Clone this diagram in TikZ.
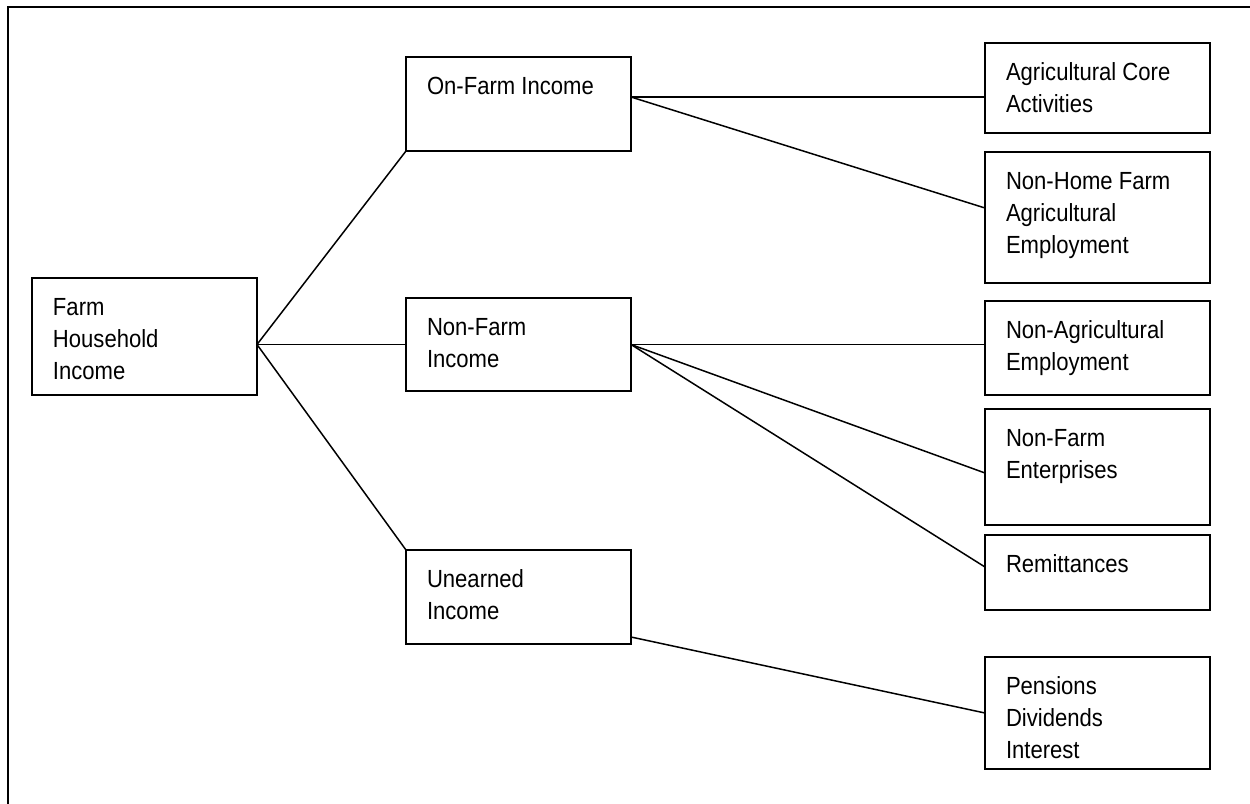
\documentclass[tikz,border=0pt]{standalone}
\usepackage{fontspec}
\setmainfont{Liberation Sans}[FakeStretch=0.89]
\usetikzlibrary{calc}
\tikzset{
 incbox/.style={draw, line width=1pt, anchor=north west, inner xsep=10.5pt, inner ysep=0pt, outer sep=0pt, font=\fontsize{12.4}{16}\selectfont},
 link/.style={line width=0.75pt},
 frame/.style={line width=1pt}
}
\newcommand{\incbox}[5]{% ime, x, y (zgoraj levo), visina, besedilo
 \node[incbox] (#1) at (#2,#3) {\parbox[c][#4][t]{91.5pt}{\raggedright\rule{0pt}{18.5pt}#5}};
}
\begin{document}
\begin{tikzpicture}[x=0.5pt,y=-0.5pt]
			\useasboundingbox (0,0) rectangle (1250,804);
			\draw [frame](1250,7)--(8,7)--(8,804);

			\incbox{fhi}{32}{278}{58.5pt}{Farm\\Household\\Income}
			\incbox{onf}{406}{57}{47pt}{On-Farm Income}
			\incbox{nonf}{406}{298}{46.5pt}{Non-Farm\\Income}
			\incbox{unearned}{406}{550}{47pt}{Unearned\\Income}

			\incbox{agcore}{985}{43}{45pt}{Agricultural Core\\Activities}
			\incbox{nonhome}{985}{152}{65.5pt}{Non-Home Farm\\Agricultural\\Employment}
			\incbox{nonag}{985}{301}{47pt}{Non-Agricultural\\Employment}
			\incbox{enterp}{985}{409}{58pt}{Non-Farm\\Enterprises}
			\incbox{remit}{985}{535}{37.5pt}{Remittances}
			\incbox{pens}{985}{657}{56pt}{Pensions\\Dividends\\Interest}

			\coordinate (hub) at (fhi.east |- nonf.west);
			\draw [link](hub)--(onf.south west);
			\draw [link](hub)--(nonf.west);
			\draw [link](hub)--(unearned.north west);

			\coordinate (onfout) at ($(onf.east)+(0,-7)$);
			\draw [link](onfout)--(onfout -| agcore.west);
			\draw [link](onfout)--($(nonhome.west)+(0,-9.5)$);

			\draw [link](nonf.east)--(nonf.east -| nonag.west);
			\draw [link](nonf.east)--($(enterp.west)+(0,6)$);
			\draw [link](nonf.east)--($(remit.west)+(0,-5.5)$);

			\coordinate (unout) at ($(unearned.south east)+(0,-7)$);
			\draw [link](unout)--(pens.west);
\end{tikzpicture}
\end{document}
